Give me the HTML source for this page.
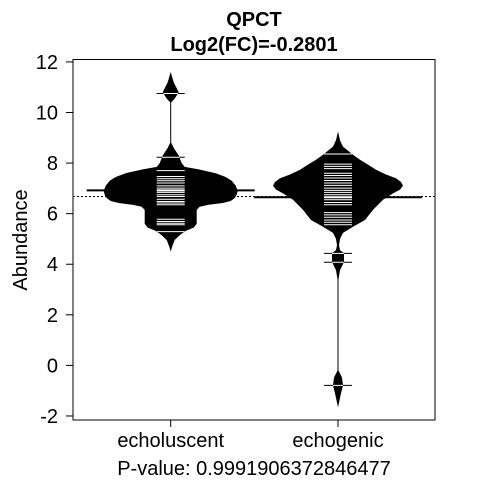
<!DOCTYPE html>
<html><head><meta charset="utf-8"><style>
html,body{margin:0;padding:0;background:#fff;}
svg{display:block;font-family:"Liberation Sans",Arial,sans-serif;}
</style></head><body>
<svg id="chart" width="480" height="480" viewBox="0 0 480 480">
<text x="254" y="26" font-size="20" font-weight="bold" text-anchor="middle">QPCT</text>
<text x="254" y="51" font-size="20" font-weight="bold" text-anchor="middle">Log2(FC)=-0.2801</text>
<text x="254" y="475" font-size="20" text-anchor="middle">P-value: 0.9991906372846477</text>
<text transform="translate(27,240) rotate(-90)" font-size="20" text-anchor="middle">Abundance</text>
<g id="plot"></g>
</svg>
<script>
const categories = ["echoluscent", "echogenic"];
const yTicks = [-2, 0, 2, 4, 6, 8, 10, 12];
// density profile: [value, half-width px]
const profileEcholuscent = [[11.6,0],[11.2,3],[10.8,8],[10.55,4],[10.4,0.5],[8.8,0.5],[8.6,3],[8.3,8],[8.0,11],[7.85,14],[7.75,28],[7.6,45],[7.45,55],[7.3,61],[7.1,65],[6.9,67],[6.75,66],[6.62,64],[6.5,60],[6.42,52],[6.35,38],[6.27,29],[6.15,26],[5.6,26],[5.45,23],[5.32,15],[5.15,9],[4.96,4],[4.7,1.5],[4.5,0]];
const profileEchogenic = [[9.25,0],[8.9,2],[8.65,5],[8.33,15],[8.13,22],[7.94,30],[7.74,38],[7.55,48],[7.4,58],[7.25,63],[7.1,65],[6.95,62],[6.8,55],[6.55,45],[6.15,35],[5.75,27],[5.48,15],[5.24,5],[5.0,2],[4.75,1],[4.56,2],[4.44,6],[4.09,6],[3.77,2],[3.4,0.5],[-0.2,0.5],[-0.48,4],[-0.79,5],[-1.1,3],[-1.66,0]];
const obsEcholuscent = [10.75,8.23,7.70,7.47,7.38,7.30,7.21,7.10,7.01,6.92,6.84,6.75,6.68,6.57,6.48,6.42,6.35,5.78,5.69,5.62,5.56,5.29];
const obsEchogenic = [8.36,7.96,7.87,7.78,7.60,7.51,7.41,7.31,7.21,7.12,7.01,6.92,6.84,6.75,6.65,6.55,6.44,6.35,6.04,5.95,5.86,5.75,5.66,5.56,4.43,4.08,-0.79];
const groupMeans = [6.92, 6.65];
const overallMean = 6.68;

const NS = "http://www.w3.org/2000/svg";
const L = 73, R = 435, T = 59.5, B = 420;
const yScale = v => 365.4 - 25.29 * v;
const xCenters = [170.7, 338];
const xScale = i => xCenters[i];
const plot = document.getElementById("plot");
function mk(tag, attrs, parent) {
  const e = document.createElementNS(NS, tag);
  for (const k in attrs) e.setAttribute(k, attrs[k]);
  (parent || plot).appendChild(e);
  return e;
}
const defs = mk("defs", {});
let ml = mk("line", {x1: L, x2: R, y1: yScale(overallMean), y2: yScale(overallMean), stroke: "#000", "stroke-width": 1, "stroke-dasharray": "2,2"});



const profiles = [profileEcholuscent, profileEchogenic];
const obs = [obsEcholuscent, obsEchogenic];
profiles.forEach((prof, i) => {
  const cx = xScale(i);
  const pts = [];
  prof.forEach(p => pts.push((cx + p[1]).toFixed(1) + "," + yScale(p[0]).toFixed(1)));
  for (let j = prof.length - 1; j >= 0; j--) pts.push((cx - prof[j][1]).toFixed(1) + "," + yScale(prof[j][0]).toFixed(1));
  const cp = mk("clipPath", {id: "clip" + i}, defs);
  mk("polygon", {points: pts.join(" ")}, cp);
  const bean = mk("polygon", {points: pts.join(" "), fill: "#000", stroke: "none"});
  
  
  obs[i].forEach(v => {
    const y = yScale(v);
    const bl = mk("line", {x1: cx - 14, x2: cx + 14, y1: y, y2: y, stroke: "#000", "stroke-width": 1});
    
    
    const wl = mk("line", {x1: cx - 14, x2: cx + 14, y1: y, y2: y, stroke: "#fff", "stroke-width": 1, "clip-path": "url(#clip" + i + ")"});
    
    
  });
  const ym = yScale(groupMeans[i]);
  const m1 = mk("line", {x1: cx - 84, x2: cx + 84, y1: ym, y2: ym, stroke: "#000", "stroke-width": 2});
  
  
  const m2 = mk("line", {x1: cx - 14, x2: cx + 14, y1: ym, y2: ym, stroke: "#fff", "stroke-width": 2, "clip-path": "url(#clip" + i + ")"});
  
  
  const xt = mk("line", {x1: cx, x2: cx, y1: B, y2: B + 7, stroke: "#000"});
  
  
  const xl = mk("text", {x: cx, y: 447, "font-size": 20, "text-anchor": "middle"});
  xl.textContent = categories[i];
  
  
});
yTicks.forEach(v => {
  const y = yScale(v);
  const t = mk("line", {x1: 66, x2: L, y1: y, y2: y, stroke: "#000"});
  
  
  const tl = mk("text", {x: 58, y: y + 7, "font-size": 20, "text-anchor": "end"});
  tl.textContent = v;
  
  
});
const box = mk("rect", {x: L, y: T, width: R - L, height: B - T, fill: "none", stroke: "#000", "stroke-width": 1});


</script>
</body></html>
